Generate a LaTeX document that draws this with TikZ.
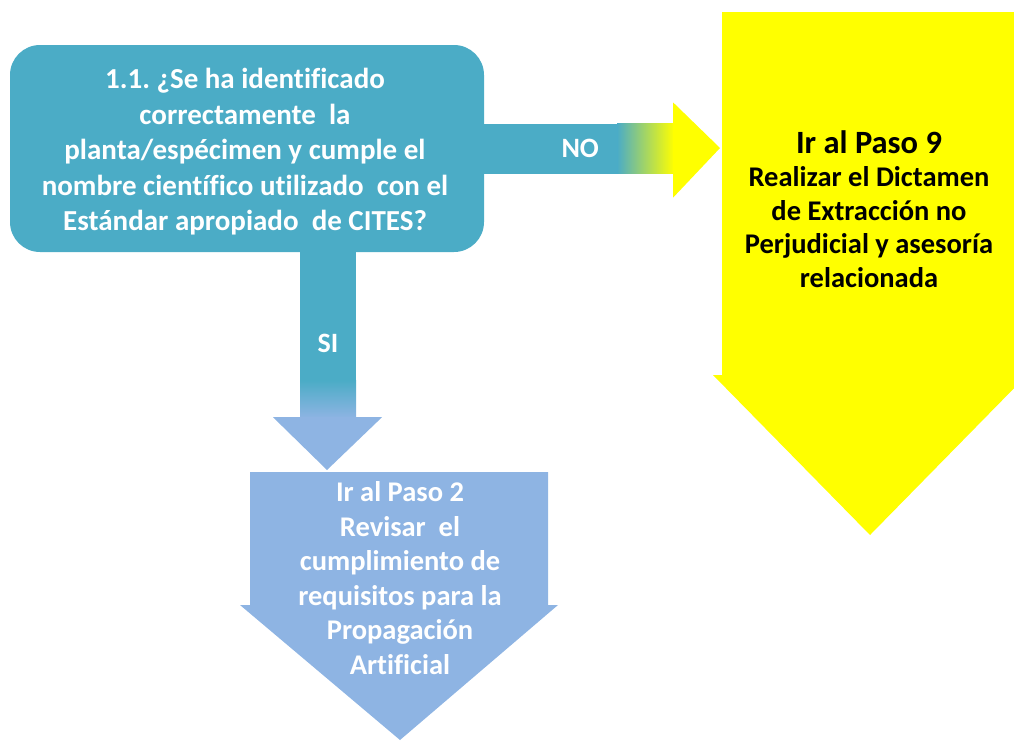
\documentclass[tikz,border=0pt]{standalone}
\usepackage{fontspec}
\setmainfont{Carlito}[Ligatures=NoCommon]
\usetikzlibrary{calc}
\frenchspacing
\definecolor{qblue}{RGB}{75,172,198}
\definecolor{lblue}{RGB}{142,180,227}
\definecolor{yel}{RGB}{255,255,0}
\tikzset{
  qbox/.style={fill=qblue, rounded corners=30pt, minimum width=474pt, minimum height=207pt, inner sep=0pt},
  wtext/.style={text=white, font=\bfseries\fontsize{29}{35.5}\selectfont, align=center, inner sep=0pt},
  btext/.style={text=black, font=\bfseries\fontsize{28.5}{33.5}\selectfont, align=center, inner sep=0pt},
  lbl/.style={text=white, font=\bfseries\fontsize{28}{30}\selectfont, inner sep=0pt}
}
\begin{document}
\begin{tikzpicture}[x=1pt,y=-1pt]
\useasboundingbox (0,0) rectangle (1014,740);
% question box
\node[qbox] (q) at (247,148.5) {};
\node[wtext] (qt) at (245,152) {1.1. ¿Se ha identificado\\correctamente\ \ la\\planta/espécimen y cumple el\\nombre científico utilizado\ \ con el\\Estándar apropiado\ \ de CITES?};
% NO arrow
\coordinate (noA) at ($(q.east)+(-4,-25)$);
\coordinate (noB) at ($(q.east)+(134,25)$);
\fill[qblue] (noA) rectangle (noB);
\shade[left color=qblue, right color=yel] ($(q.east)+(133,-25)$) rectangle ($(q.east)+(190,25)$);
\coordinate (noTip) at (720,148);
\fill[yel] ($(q.east)+(189,-46)$) -- (noTip) -- ($(q.east)+(189,49)$) -- cycle;
\node[lbl] (no) at ($(q.east)+(96,0)$) {NO};
% yellow target
\fill[yel] (722,12) -- (1018,12) -- (1018,375) -- (1027,375) -- (870,535) -- (713,375) -- (722,375) -- cycle;
\node[btext] (y9) at (869,209) {{\fontsize{32.5}{33.5}\selectfont Ir al Paso 9}\\Realizar el Dictamen\\de Extracción no\\Perjudicial y asesoría\\relacionada};
% SI arrow
\coordinate (siTop) at ($(q.south)+(81,-4)$);
\fill[qblue] ($(siTop)+(-28,0)$) rectangle ($(siTop)+(28,133)$);
\shade[top color=qblue, bottom color=lblue] ($(siTop)+(-28,132)$) rectangle ($(siTop)+(28,170)$);
\coordinate (siTip) at (327,470);
\fill[lblue] ($(siTop)+(-55,169)$) -- ($(siTop)+(54,169)$) -- (siTip) -- cycle;
\node[lbl] (si) at ($(siTop)+(0,95)$) {SI};
% Paso 2 target
\fill[lblue] (250,472) -- (548,472) -- (548,605) -- (558,605) -- (400,740) -- (240,605) -- (250,605) -- cycle;
\node[wtext, font=\bfseries\fontsize{28.5}{34.5}\selectfont] (p2) at (400,578) {Ir al Paso 2\\Revisar\ \ el\\cumplimiento de\\requisitos para la\\Propagación\\Artificial};
\end{tikzpicture}
\end{document}
